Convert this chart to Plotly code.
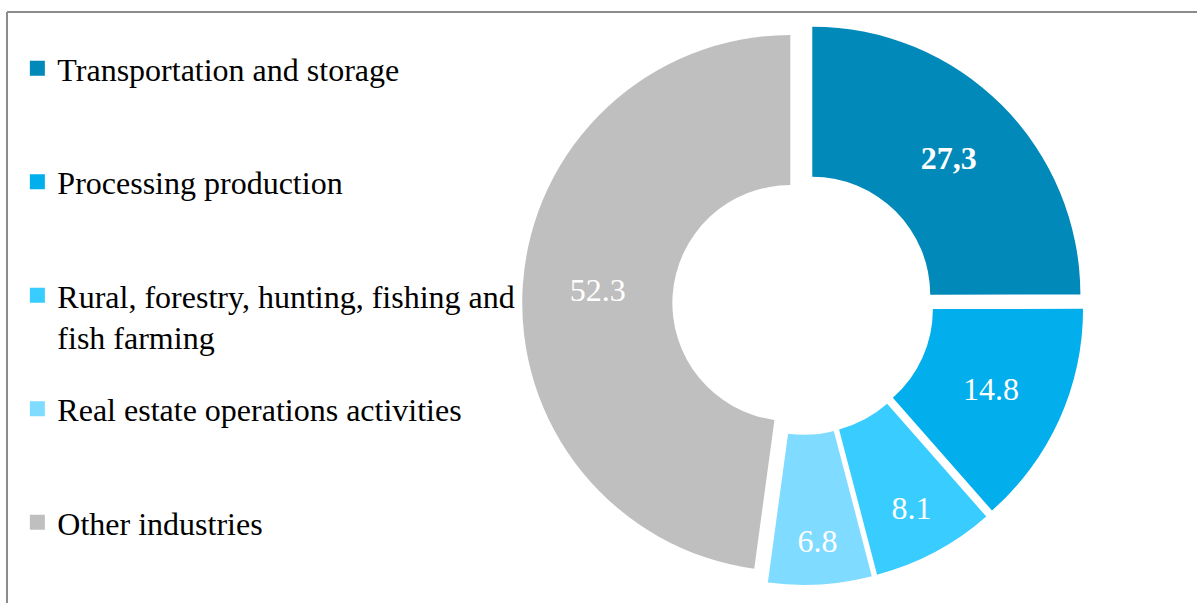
import plotly.graph_objects as go

# Industry breakdown (share values shown on the ring)
categories = [
    "Transportation and storage",
    "Processing production",
    "Rural, forestry, hunting, fishing and<br>fish farming",
    "Real estate operations activities",
    "Other industries",
]
values = [27.3, 14.8, 8.1, 6.8, 52.3]
value_labels = ["<b>27,3</b>", "14.8", "8.1", "6.8", "52.3"]
colors = ["#0189B9", "#02AEEB", "#39CCFF", "#7FDBFF", "#BFBFBF"]

SERIF = "Liberation Serif, Times New Roman, serif"
FONT_SIZE = 32
W, H = 1197, 603

fig = go.Figure()

fig.add_trace(go.Pie(
    labels=categories,
    values=values,
    text=value_labels,
    textinfo="text",
    textposition="inside",
    insidetextorientation="horizontal",
    textfont=dict(family=SERIF, size=FONT_SIZE, color="white"),
    marker=dict(colors=colors, line=dict(width=0)),
    hole=0.44,
    pull=[0.048] * len(values),
    direction="clockwise",
    rotation=0,
    sort=False,
    showlegend=False,
    domain=dict(x=[0.436, 0.906], y=[0.03, 0.962]),
    hoverinfo="label+value",
))

# Each legend entry gets its own legend box so the rows sit on an even pitch
LEGEND_TOP_PX = 41
LEGEND_PITCH_PX = 113.5
legend_layouts = {}
for i, (name, color) in enumerate(zip(categories, colors)):
    legend_id = "legend" if i == 0 else f"legend{i + 1}"
    fig.add_trace(go.Scatter(
        x=[None], y=[None],
        mode="markers",
        marker=dict(symbol="square", size=15, color=color, line=dict(width=0)),
        name=name,
        legend=legend_id,
        showlegend=True,
        hoverinfo="skip",
    ))
    top_px = LEGEND_TOP_PX + i * LEGEND_PITCH_PX
    legend_layouts[legend_id] = dict(
        x=0.0145, y=1 - top_px / H,
        xanchor="left", yanchor="top",
        valign="top",
        itemsizing="trace",
        itemwidth=30,
        bgcolor="rgba(0,0,0,0)",
        font=dict(family=SERIF, size=FONT_SIZE, color="black"),
    )

fig.update_layout(
    width=W,
    height=H,
    margin=dict(l=0, r=0, t=0, b=0),
    paper_bgcolor="white",
    plot_bgcolor="white",
    xaxis=dict(visible=False),
    yaxis=dict(visible=False),
    font=dict(family=SERIF, size=FONT_SIZE, color="black"),
    shapes=[
        dict(type="line", xref="paper", yref="paper",
             x0=7 / W, x1=1.01, y0=1 - 12 / H, y1=1 - 12 / H,
             line=dict(color="#8C8C8C", width=2)),
        dict(type="line", xref="paper", yref="paper",
             x0=7 / W, x1=7 / W, y0=-0.01, y1=1 - 12 / H,
             line=dict(color="#8C8C8C", width=2)),
    ],
    **legend_layouts,
)

fig.write_html("out.html")
